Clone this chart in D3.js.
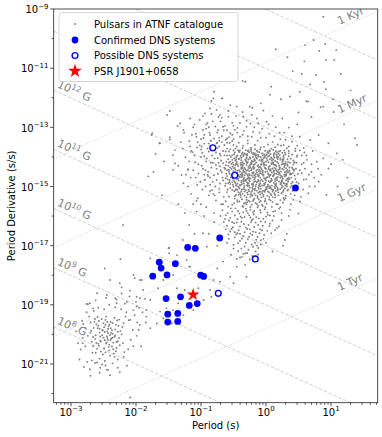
<!DOCTYPE html>
<html><head><meta charset="utf-8">
<script src="https://cdn.jsdelivr.net/npm/d3@7"></script>
<style>body{margin:0;background:#fff}svg{display:block}text{font-family:"DejaVu Sans",sans-serif}</style>
</head><body><svg id="c" width="382" height="437"></svg>
<script>
// ATNF pulsars: flat pairs of [log10(P)*100, log10(Pdot)*100]
const atnfMsp = [
-262,-2003,-251,-1987,-244,-2012,-238,-1995,-255,-2021,-247,-1968,-233,-2008,-241,-2035,-259,-1979,-228,-1991,
-266,-2040,-249,-2047,-236,-1962,-243,-1981,-252,-2003,-230,-2026,-257,-1955,-239,-2019,-248,-1992,-263,-2016,
-221,-1975,-235,-2050,-246,-1940,-254,-2058,-240,-2002,-226,-2012,-269,-1988,-244,-1958,-232,-1983,-258,-2032,
-250,-2011,-237,-2041,-229,-1953,-261,-1966,-245,-2027,-222,-2000,-256,-1994,-242,-1972,-234,-2065,-268,-2025,
-253,-1948,-239,-1979,-247,-2061,-225,-2037,-260,-2049,-231,-1967,-243,-2019,-264,-1957,-236,-1998,-249,-1976,
-219,-1962,-255,-2007,-241,-2054,-228,-2023,-266,-2009,-246,-2031,-233,-1944,-258,-1971,-240,-2072,-252,-1985,
-238,-2014,-224,-1989,-262,-2062,-247,-1951,-230,-2046,-257,-2038,-243,-1996,-235,-2028,-270,-1995,-250,-1962,
-227,-1971,-245,-2006,-259,-1941,-232,-2004,-242,-2043,-265,-1978,-237,-1985,-254,-2024,-220,-2030,-248,-2019,
-239,-1958,-261,-2029,-231,-2057,-256,-1981,-244,-1990,-226,-1950,-251,-2068,-236,-2011,-263,-1948,-241,-1967,
-282,-2012,-278,-1978,-285,-2051,-275,-2093,-272,-1940,-280,-2110,-268,-2088,-276,-1925,-289,-2030,-271,-2118,
-260,-2095,-252,-2102,-245,-2120,-236,-2098,-228,-2085,-219,-2076,-212,-2050,-208,-2018,-205,-1985,-211,-1952,
-215,-1925,-223,-1915,-232,-1908,-241,-1900,-249,-1915,-258,-1910,-265,-1920,-274,-1898,-262,-1885,-246,-1877,
-230,-1882,-217,-1896,-202,-1935,-198,-1960,-195,-1910,-200,-1890,-210,-1872,-222,-1862,-190,-1925,-186,-1880,
-199,-2005,-204,-2040,-214,-2106,-225,-2128,-240,-2138,-256,-2130,-270,-2140,-287,-2085,-283,-1955,-292,-1990,
-248,-2090,-233,-2076,-218,-2060,-256,-2082,-267,-2062,-278,-2040,-274,-2005,-281,-1965,-270,-1960,-216,-1940,
-263,-2097,-255,-2113,-243,-2120,-228,-2113,-282,-2030,-247,-2105,
-248,-1777,-240,-1816,-225,-1827,-222,-1841,-204,-1799,-202,-1810,-191,-1816,-209,-1852,-260,-1861,-245,-1867,
-271,-1895,-276,-1897,-266,-1912,-232,-1878,-230,-1895,-194,-1878,-199,-1906,-184,-1918,-214,-1890,-185,-1960,
-192,-2040,-196,-1985
];
const atnfRecycled = [
-97,-1658,-91,-1704,-128,-1681,-149,-1707,-149,-1726,-178,-1743,-194,-1816,-122,-1749,-117,-1771,-143,-1799,
-158,-1816,-166,-1844,-189,-1850,-199,-1873,-178,-1884,-137,-1844,-125,-1850,-104,-1844,-86,-1850,-84,-1873,
-81,-1816,-71,-1822,-55,-1805,-50,-1827,-45,-1771,-30,-1805,-32,-1726,-66,-1754,-75,-1777,-153,-1912,
-163,-1923,-143,-1918,-158,-1946,-145,-1963,-127,-1935,-168,-1963,-184,-1940,-204,-1918,-209,-1951,-194,-1968,
-178,-1979,-112,-1918,-96,-1884,-150,-1709,-137,-1732,-118,-1771,-224,-1746,-220,-1630,-209,-2213,-60,-1690,
-40,-1740,-110,-1660,-135,-1895,-118,-1880,-80,-1620,-88,-1660,-75,-1700,-95,-1600,-100,-1560,-107,-1585
];
const atnfNormal = [
-42,-1381,-31,-1377,-22,-1386,-14,-1379,-6,-1388,3,-1383,11,-1376,19,-1389,-37,-1390,-26,-1384,-9,-1375,7,-1391,-18,-1392,15,-1380,-48,-1385,25,-1386,-1,-1379,-33,-1388,
-45,-1398,-38,-1403,-29,-1395,-20,-1400,-12,-1393,-4,-1404,5,-1396,13,-1402,21,-1394,-34,-1393,-24,-1406,-16,-1397,-8,-1401,1,-1392,9,-1405,17,-1398,27,-1401,-52,-1394,-41,-1406,-2,-1398,
-47,-1412,-36,-1418,-27,-1409,-19,-1415,-10,-1411,-3,-1419,6,-1408,14,-1414,22,-1410,30,-1417,-42,-1407,-31,-1413,-23,-1420,-14,-1406,-6,-1416,2,-1411,10,-1419,18,-1407,26,-1413,-55,-1416,-39,-1420,-17,-1412,
-50,-1426,-43,-1431,-34,-1423,-25,-1429,-17,-1424,-9,-1433,0,-1427,8,-1422,16,-1432,24,-1426,33,-1430,-38,-1435,-29,-1421,-20,-1434,-12,-1428,-4,-1422,4,-1434,12,-1425,20,-1429,28,-1423,-46,-1422,-58,-1430,
-53,-1441,-44,-1447,-36,-1438,-28,-1444,-19,-1440,-11,-1448,-2,-1437,6,-1445,15,-1441,23,-1449,31,-1438,-40,-1450,-32,-1442,-24,-1436,-15,-1446,-7,-1441,2,-1449,10,-1439,19,-1444,27,-1443,36,-1447,-48,-1437,-60,-1445,
-56,-1457,-47,-1452,-39,-1460,-31,-1455,-22,-1463,-14,-1453,-6,-1459,3,-1456,11,-1464,20,-1452,28,-1460,37,-1455,-43,-1465,-35,-1451,-26,-1458,-18,-1462,-10,-1456,-1,-1451,7,-1461,16,-1457,24,-1465,33,-1452,-51,-1463,
-54,-1470,-45,-1476,-37,-1468,-29,-1474,-20,-1469,-12,-1478,-3,-1472,5,-1467,14,-1475,22,-1471,31,-1479,-41,-1466,-33,-1480,-24,-1473,-16,-1466,-7,-1477,1,-1470,9,-1479,18,-1468,26,-1474,35,-1470,-50,-1479,-62,-1472,
-52,-1486,-44,-1491,-35,-1483,-27,-1489,-18,-1484,-10,-1493,-1,-1487,7,-1482,16,-1490,24,-1485,32,-1494,-40,-1495,-31,-1481,-22,-1492,-14,-1486,-5,-1482,3,-1494,12,-1488,20,-1483,29,-1491,-48,-1484,-58,-1489,
-50,-1501,-41,-1507,-33,-1498,-25,-1504,-16,-1499,-8,-1508,1,-1502,9,-1497,18,-1505,26,-1500,-37,-1510,-29,-1496,-20,-1509,-12,-1503,-3,-1497,5,-1506,13,-1501,22,-1509,-46,-1496,-55,-1505,
-49,-1516,-40,-1522,-31,-1513,-23,-1519,-14,-1514,-6,-1523,3,-1517,11,-1512,19,-1520,-36,-1525,-27,-1511,-18,-1524,-10,-1518,-1,-1512,7,-1525,15,-1515,-44,-1511,24,-1522,
-60,-1352,-13,-1345,18,-1358,40,-1349,-35,-1362,-3,-1366,32,-1371,-55,-1374,-23,-1369,8,-1372,
-64,-1395,35,-1388,42,-1412,-66,-1421,40,-1436,-68,-1452,44,-1463,-66,-1480,41,-1485,-63,-1498,
38,-1502,-60,-1519,33,-1514,30,-1531,-57,-1534,-48,-1541,-39,-1536,-30,-1545,-21,-1531,-13,-1539,
-4,-1533,5,-1544,14,-1537,22,-1546,-44,-1552,-34,-1558,-25,-1551,-16,-1556,-8,-1549,1,-1558,
10,-1553,18,-1560,-52,-1562,-28,-1527,-19,-1545,-46,-1529,27,-1539,-9,-1527,8,-1529,-1,-1541,
-27,-1378,2,-1385,-15,-1394,12,-1391,-44,-1395,-30,-1402,-7,-1409,22,-1404,-21,-1416,4,-1418,
-39,-1427,-13,-1431,13,-1437,-26,-1438,0,-1441,28,-1434,-50,-1448,-19,-1452,9,-1453,33,-1444,
-33,-1462,-4,-1464,19,-1459,-49,-1468,-26,-1471,-1,-1476,24,-1480,-38,-1486,-9,-1489,14,-1493,
-42,-1502,-20,-1498,7,-1504,30,-1497,-33,-1517,-5,-1515,18,-1512,-24,-1527,-57,-1420,-49,-1405,
11,-1466,-16,-1482,37,-1420,-35,-1445,25,-1417,-8,-1448,15,-1428,-45,-1458,3,-1499,-28,-1491,
-17,-1374,6,-1380,-40,-1378,27,-1395,-11,-1399,-52,-1410,19,-1421,-36,-1432,-7,-1425,31,-1448,
-23,-1445,12,-1450,-43,-1462,16,-1470,-31,-1478,4,-1482,-56,-1485,27,-1488,-15,-1493,-46,-1509,
10,-1511,-21,-1505,34,-1483,-11,-1463,-37,-1455,21,-1441,-3,-1430,-28,-1417,8,-1402,-19,-1387,
-8,-1455,-30,-1427,17,-1384,-51,-1433,29,-1466,-39,-1496,-2,-1518,14,-1506,-25,-1462,0,-1395,
30,-1392,38,-1406,33,-1425,41,-1455,36,-1475,40,-1497,29,-1507,35,-1380,44,-1418,31,-1462,46,-1440,38,-1525,26,-1555,45,-1380,
-41,-1384,-35,-1397,-28,-1380,-20,-1391,-13,-1383,-5,-1395,4,-1387,12,-1397,20,-1382,-46,-1402,
-38,-1411,-30,-1405,-22,-1413,-15,-1403,-7,-1414,1,-1405,9,-1412,17,-1403,25,-1409,-51,-1419,
-44,-1425,-36,-1428,-27,-1433,-19,-1427,-11,-1436,-3,-1426,6,-1431,13,-1427,21,-1435,29,-1428,
-55,-1436,-47,-1443,-38,-1440,-30,-1447,-22,-1441,-13,-1443,-5,-1447,4,-1441,12,-1446,21,-1437,
29,-1452,-57,-1450,-45,-1456,-37,-1463,-29,-1459,-20,-1456,-12,-1466,-4,-1460,5,-1463,13,-1456,
22,-1463,31,-1458,-53,-1467,-43,-1473,-35,-1477,-27,-1469,-18,-1476,-9,-1470,0,-1480,8,-1474,
17,-1478,25,-1469,33,-1474,-56,-1478,-47,-1488,-38,-1481,-29,-1486,-20,-1490,-12,-1482,-3,-1491,
6,-1486,14,-1482,22,-1492,-51,-1494,-43,-1500,-34,-1504,-26,-1497,-17,-1507,-9,-1500,0,-1505,
8,-1508,16,-1499,24,-1504,-47,-1513,-38,-1517,-29,-1521,-21,-1515,-12,-1521,-3,-1514,5,-1520,
13,-1523,-42,-1528,-33,-1531,-24,-1535,-16,-1530,-7,-1537,2,-1531,10,-1536,-37,-1543,-27,-1548,
-18,-1541,-10,-1553,-1,-1547,-32,-1555,-22,-1562,-14,-1559,-5,-1566,-44,-1546,19,-1530,26,-1518,
-24,-1425,-8,-1437,-33,-1451,11,-1420,-16,-1458,2,-1469,-40,-1469,18,-1451,-25,-1483,-6,-1497,
-31,-1392,-2,-1402,16,-1392,-47,-1428,30,-1423,-19,-1433,7,-1447,-34,-1490,24,-1496,-11,-1508,
-52,-1458,-60,-1465,-62,-1490,-59,-1510,-63,-1440,-58,-1408,-56,-1395,-50,-1378,28,-1378,-23,-1374,
-8,-1368,-36,-1370,14,-1367,-45,-1365,-17,-1360,3,-1358,23,-1362,-28,-1355,-52,-1347,10,-1350,
-57,-1382,-49,-1391,-43,-1377,-36,-1385,-29,-1390,-23,-1380,-16,-1389,-10,-1384,-3,-1391,5,-1378,
13,-1387,22,-1379,29,-1386,-54,-1400,-46,-1409,-39,-1397,-32,-1410,-25,-1401,-18,-1408,-12,-1398,
-5,-1410,3,-1399,11,-1409,19,-1400,27,-1407,35,-1398,-61,-1416,-53,-1424,-45,-1417,-37,-1425,
-30,-1418,-22,-1424,-15,-1419,-8,-1426,0,-1416,9,-1424,17,-1417,26,-1424,34,-1417,42,-1426,
-64,-1437,-57,-1444,-49,-1439,-41,-1445,-33,-1437,-26,-1448,-18,-1437,-10,-1444,-1,-1438,7,-1442,
16,-1447,25,-1440,34,-1452,43,-1443,-61,-1457,-53,-1462,-44,-1454,-36,-1459,-28,-1463,-21,-1454,
-13,-1460,-5,-1453,4,-1459,12,-1461,21,-1456,30,-1462,39,-1458,-59,-1476,-51,-1473,-42,-1480,
-34,-1472,-26,-1479,-17,-1471,-9,-1481,-1,-1473,8,-1481,16,-1473,25,-1482,34,-1477,-55,-1492,
-46,-1497,-37,-1492,-28,-1499,-20,-1494,-11,-1497,-2,-1493,6,-1499,15,-1495,23,-1488,32,-1490,
-52,-1511,-43,-1519,-34,-1509,-26,-1516,-17,-1513,-8,-1518,1,-1509,10,-1517,18,-1510,27,-1513,
-48,-1533,-39,-1529,-30,-1537,-22,-1527,-13,-1533,-4,-1528,5,-1536,14,-1529,-41,-1551,-29,-1553,
-20,-1549,-11,-1544,-2,-1551,7,-1547,-35,-1569,-24,-1570,-12,-1565,-1,-1570,-49,-1557,-18,-1583,
-58,-1568,-47,-1574,-36,-1566,-24,-1579,-13,-1571,-2,-1577,9,-1569,-52,-1585,-41,-1591,-30,-1583,
-19,-1594,-8,-1588,3,-1596,14,-1583,-62,-1597,-55,-1606,-44,-1611,-33,-1603,-22,-1614,-11,-1608,
0,-1602,10,-1615,-49,-1624,-38,-1619,-27,-1630,-16,-1622,-5,-1633,6,-1626,-60,-1633,-53,-1643,
-42,-1648,-31,-1639,-20,-1652,-9,-1645,2,-1650,-46,-1662,-35,-1668,-24,-1659,-13,-1671,-3,-1664,
-57,-1677,-40,-1684,-28,-1679,-17,-1690,-8,-1682,-50,-1697,-33,-1703,-22,-1696,-12,-1708,-43,-1718,
-29,-1725,-16,-1720,-37,-1738,-25,-1747,-54,-1731,8,-1658,17,-1640,12,-1600,-65,-1620,-67,-1580,
-30,-1560,-6,-1562,20,-1575,-39,-1602,-25,-1645,-48,-1655,-14,-1700,0,-1690,-20,-1611,-35,-1587,
-54,-1574,-43,-1583,-31,-1575,-20,-1587,-9,-1580,2,-1588,-48,-1598,-37,-1606,-26,-1597,-15,-1604,
-4,-1609,6,-1598,-57,-1615,-45,-1622,-34,-1627,-23,-1621,-12,-1630,-1,-1620,-51,-1638,-40,-1635,
-29,-1644,-18,-1637,-6,-1648,-55,-1652,-44,-1658,-33,-1655,-21,-1664,-10,-1658,-48,-1672,-37,-1676,
-26,-1670,-15,-1680,-4,-1677,-43,-1692,-31,-1690,-20,-1704,-8,-1696,-38,-1710,-27,-1714,-35,-1728,
-59,-1590,-62,-1645,-58,-1662,5,-1634,11,-1585,-50,-1710,-21,-1735,-45,-1745,-32,-1765,-12,-1730,
16,-1560,24,-1590,-66,-1560,-63,-1610,-24,-1605,-40,-1660,-16,-1655,-28,-1590,-52,-1620,-8,-1618,
-68,-1330,-75,-1352,-82,-1371,-71,-1389,-79,-1405,-88,-1382,-95,-1398,-73,-1420,-84,-1436,-92,-1415,
-70,-1445,-80,-1462,-89,-1450,-99,-1430,-76,-1478,-86,-1494,-72,-1508,-81,-1525,-94,-1478,-104,-1456,
-109,-1418,-113,-1384,-102,-1361,-96,-1336,-87,-1318,-78,-1297,-70,-1280,-92,-1290,-108,-1322,-118,-1347,
-124,-1401,-120,-1442,-128,-1372,-116,-1470,-98,-1510,-88,-1530,-77,-1547,-69,-1560,-106,-1495,-131,-1350,
-72,-1365,-85,-1346,-65,-1310,-74,-1404,-90,-1460,-83,-1512,-100,-1375,-110,-1290,-97,-1262,-84,-1255,
-126,-1318,-135,-1430,-115,-1525,-73,-1265,-63,-1295,-105,-1540,-92,-1570,-80,-1590,-70,-1600,
-95,-1325,-88,-1355,-80,-1338,-72,-1345,-64,-1360,-57,-1333,-50,-1340,-44,-1318,-36,-1325,-28,-1330,
-78,-1375,-70,-1395,-62,-1382,-56,-1353,-47,-1372,-90,-1372,-83,-1395,-77,-1427,-69,-1412,-62,-1428,
-67,-1470,-74,-1458,-71,-1490,-78,-1500,-86,-1470,-93,-1445,-100,-1400,-105,-1350,-114,-1325,-92,-1305,
-82,-1280,-74,-1310,-60,-1310,-50,-1295,-40,-1285,-30,-1278,-18,-1300,-10,-1318,0,-1335,-22,-1332,
-68,-1268,-58,-1245,-46,-1262,-36,-1248,-88,-1300,-100,-1340,-110,-1395,-82,-1420,-95,-1460,-76,-1440,
-98,-1386,-91,-1405,-85,-1420,-97,-1440,-89,-1465,-82,-1484,-75,-1370,-66,-1380,-60,-1395,-71,-1432,
-104,-1425,-112,-1445,-108,-1470,-101,-1485,-93,-1500,-86,-1515,-79,-1530,-72,-1520,-65,-1535,-62,-1550,
-118,-1415,-123,-1460,-115,-1380,-106,-1368,-95,-1355,-86,-1365,-77,-1385,-68,-1350,-60,-1338,-52,-1325,
-44,-1302,-34,-1312,-24,-1287,-14,-1270,-6,-1305,4,-1290,13,-1330,21,-1318,30,-1342,-72,-1335,
-164,-1354,-143,-1394,-130,-1461,-173,-1450,-140,-1377,-127,-1489,-148,-1333,-157,-1415,-170,-1390,-181,-1466,
-136,-1296,-152,-1258,-107,-1548,-160,-1530,-148,-1245,-175,-1320,-176,-1326,-163,-1354,-148,-1341,-140,-1422,
-120,-1444,-143,-1444,-120,-1500,-112,-1560,-125,-1590,-118,-1630,-135,-1560,
-132,-1286,-127,-1309,-117,-1270,-102,-1275,-94,-1253,-86,-1236,-76,-1241,-71,-1258,-58,-1264,-81,-1202,
-68,-1202,-55,-1225,-45,-1230,-35,-1264,-22,-1258,-12,-1286,1,-1281,-30,-1298,-66,-1298,-97,-1309,
-107,-1332,-86,-1326,-55,-1320,-40,-1332,-76,-1354,-99,-1365,-117,-1365,-62,-1342,-48,-1308,-20,-1315,
5,-1322,15,-1300,28,-1318,40,-1330,-8,-1335,-28,-1345,-52,-1285,-42,-1352,22,-1340,35,-1301,
10,-1262,-4,-1243,25,-1270,48,-1290,-90,-1285,-112,-1300,-60,-1372,-50,-1360,-75,-1318,-85,-1345,
15,-1036,33,-1063,60,-1022,73,-1005,91,-1018,82,-1042,108,-1039,92,-1072,105,-1072,59,-1077,
41,-1110,77,-1123,89,-1147,68,-1155,92,-1171,8,-1163,52,-1180,23,-1205,62,-1212,84,-1232,
-8,-1219,-21,-1234,6,-1190,-36,-1143,-67,-1202,-80,-1180,-84,-1211,103,-1205,104,-1248,88,-926,
-32,-1146,37,-1196,65,-1213,88,-1230,-25,-1230,137,-1337,120,-1290,130,-1175,70,-1265,50,-1250,115,-1120,55,-1120,
45,-1372,52,-1332,68,-1343,81,-1326,96,-1354,109,-1388,140,-1360,78,-1416,70,-1450,96,-1439,
81,-1484,65,-1523,93,-1529,52,-1551,37,-1579,50,-1591,24,-1613,14,-1647,29,-1681,47,-1400,
55,-1425,49,-1458,58,-1477,45,-1502,62,-1395,72,-1380,88,-1405,60,-1440,75,-1500,54,-1535,
44,-1530,42,-1545,48,-1362,58,-1370,66,-1460,85,-1460,100,-1425,118,-1410,125,-1470,110,-1500,
38,-1560,41,-1440,43,-1420,39,-1470,50,-1490,57,-1510,35,-1600,20,-1635,26,-1700,10,-1720,32,-1660,
33,-1408,40,-1392,47,-1420,43,-1447,37,-1460,45,-1475,39,-1490,34,-1510,30,-1540,41,-1515,
48,-1395,52,-1445,55,-1395,58,-1420,62,-1475,47,-1485,36,-1436,32,-1500,28,-1545,22,-1570,
55,-1455,63,-1410,70,-1425,67,-1500,74,-1470,80,-1440,59,-1385,52,-1378,35,-1365,27,-1360
];
// DNS systems: [P (s), Pdot (s/s)]
const dnsConfirmed = [
[0.194,1.82e-17],[0.0624,8.7e-18],[0.0817,8.1e-18],[0.0228,2.75e-18],[0.0243,1.74e-18],[0.0403,2.45e-18],
[0.0181,9.3e-19],[0.030,1.02e-18],[0.0989,1.0e-18],[0.110,9.1e-19],[0.029,1.62e-19],[0.0484,1.86e-19],
[0.066,9.5e-20],[0.0875,1.1e-19],[0.0308,4.8e-20],[0.0439,5.1e-20],[0.0308,2.6e-20],[0.0439,2.75e-20],
[2.84,8.9e-16]
];
const dnsPossible = [[0.152,2.04e-14],[0.331,2.4e-15],[0.684,3.55e-18],[0.1845,2.45e-19]];
const psrJ1901 = [[0.0757,2.2e-19]];
// Reference lines
const bFields = [1e8,1e9,1e10,1e11,1e12,1e13,1e14,1e15];
const bLabels = ["8","9","10","11","12"];
const ages = [1e3,1e6,1e9,1e12];
const ageLabels = ["1 Kyr","1 Myr","1 Gyr","1 Tyr"];
const xTickExps = [-3,-2,-1,0,1];
const yTickExps = [-9,-11,-13,-15,-17,-19,-21];
const legendItems = ["Pulsars in ATNF catalogue","Confirmed DNS systems","Possible DNS systems","PSR J1901+0658"];

const svg = d3.select("#c");
const L=53.7,R=377.7,T=9,B=402.7;
const x = d3.scaleLog().domain([Math.pow(10,-3.266),Math.pow(10,1.718)]).range([L,R]);
const y = d3.scaleLog().domain([Math.pow(10,-22.31),1e-9]).range([B,T]);
const [P0,P1]=x.domain();

svg.append("defs").append("clipPath").attr("id","clip").append("rect")
  .attr("x",L).attr("y",T).attr("width",R-L).attr("height",B-T);
const g = svg.append("g").attr("clip-path","url(#clip)");
const line = d3.line().x(d=>x(d[0])).y(d=>y(d[1]));
const YR=3.156e7;
function bPd(Bf,P){const k=Bf/3.2e19;return k*k/P;}
function aPd(t,P){return P/(2*t*YR);}
bFields.forEach(Bf=>{
  g.append("path").attr("d",line([[P0,bPd(Bf,P0)],[P1,bPd(Bf,P1)]]))
   .attr("fill","none").attr("stroke","#d0d0d0").attr("stroke-width",1).attr("stroke-dasharray","3.7,1.6");
});
ages.forEach(t=>{
  g.append("path").attr("d",line([[P0,aPd(t,P0)],[P1,aPd(t,P1)]]))
   .attr("fill","none").attr("stroke","#d0d0d0").attr("stroke-width",1).attr("stroke-dasharray","1,1.6");
});
const ang = Math.atan2(y(1e-10)-y(1e-9), x(10)-x(1))*180/Math.PI; // slope angle (down-right positive)
bLabels.forEach((e,i)=>{
  const Bf=bFields[i], px=56.5, P=x.invert(px), yy=y(bPd(Bf,P))-4.5;
  const t=g.append("text").attr("x",px).attr("y",yy).attr("fill","#808080").attr("font-size",11)
    .attr("transform",`rotate(${ang},${px},${yy})`);
  t.append("tspan").text("10");
  t.append("tspan").attr("dy",-4.5).attr("font-size",7.7).text(e);
  t.append("tspan").attr("dy",4.5).text(" G");
});
ages.forEach((t,i)=>{
  const px=339.5, P=x.invert(px), yy=y(aPd(t,P))-4;
  g.append("text").attr("x",px).attr("y",yy).attr("fill","#808080").attr("font-size",11)
    .attr("transform",`rotate(${-ang},${px},${yy})`).text(ageLabels[i]);
});
// pulsars
const pts=[];
[atnfMsp,atnfRecycled,atnfNormal].forEach(a=>{for(let i=0;i<a.length;i+=2)pts.push([Math.pow(10,a[i]/100),Math.pow(10,a[i+1]/100)]);});
g.append("g").selectAll("circle").data(pts).join("circle")
  .attr("cx",d=>x(d[0])).attr("cy",d=>y(d[1])).attr("r",0.95).attr("fill","#808080");
g.append("g").selectAll("circle").data(dnsConfirmed).join("circle")
  .attr("cx",d=>x(d[0])).attr("cy",d=>y(d[1])).attr("r",3.4).attr("fill","#0000ff");
g.append("g").selectAll("circle").data(dnsPossible).join("circle")
  .attr("cx",d=>x(d[0])).attr("cy",d=>y(d[1])).attr("r",2.9).attr("fill","#fff").attr("stroke","#0000ff").attr("stroke-width",1.4);
const star=d3.symbol().type(d3.symbolStar).size(50);
g.append("g").selectAll("path").data(psrJ1901).join("path")
  .attr("transform",d=>`translate(${x(d[0])},${y(d[1])})`).attr("d",star).attr("fill","#ff0000");

// axes frame
svg.append("rect").attr("x",L).attr("y",T).attr("width",R-L).attr("height",B-T)
  .attr("fill","none").attr("stroke","#222").attr("stroke-width",0.8);
const ax=svg.append("g").attr("stroke","#222").attr("stroke-width",0.8);
for(let e=-4;e<=2;e++){for(let m=1;m<10;m++){const v=m*Math.pow(10,e);if(v<P0||v>P1)continue;
  const px=x(v);ax.append("line").attr("x1",px).attr("x2",px).attr("y1",B).attr("y2",B+(m===1?3.5:2));}}
xTickExps.forEach(e=>{
  const t=svg.append("text").attr("x",x(Math.pow(10,e))).attr("y",415.5).attr("font-size",10).attr("text-anchor","middle");
  t.append("tspan").text("10");
  t.append("tspan").attr("dy",-4.5).attr("font-size",7).text(String(e).replace("-","\u2212"));
});
for(let e=-22;e<=-9;e++){const py=y(Math.pow(10,e));const major=(e%2!==0);
  ax.append("line").attr("x1",L).attr("x2",L-(major?3.5:2)).attr("y1",py).attr("y2",py);}
yTickExps.forEach(e=>{
  const py=y(Math.pow(10,e));
  const t=svg.append("text").attr("x",48.5).attr("y",py+4.2).attr("font-size",10).attr("text-anchor","end");
  t.append("tspan").text("10");
  t.append("tspan").attr("dy",-4.5).attr("font-size",7).text(String(e).replace("-","\u2212"));
});
svg.append("text").attr("x",(L+R)/2).attr("y",429).attr("font-size",10).attr("text-anchor","middle").text("Period (s)");
svg.append("text").attr("transform",`translate(15,${(T+B)/2}) rotate(-90)`).attr("font-size",10).attr("text-anchor","middle").text("Period Derivative (s/s)");

// legend
const lg=svg.append("g");
lg.append("rect").attr("x",59).attr("y",12.5).attr("width",179).attr("height",69).attr("rx",2.5)
  .attr("fill","#fff").attr("fill-opacity",0.8).attr("stroke","#cccccc").attr("stroke-width",0.8);
const rows=[24,40,55.5,71];
lg.append("circle").attr("cx",75).attr("cy",rows[0]).attr("r",0.95).attr("fill","#808080");
lg.append("circle").attr("cx",75).attr("cy",rows[1]).attr("r",3.4).attr("fill","#0000ff");
lg.append("circle").attr("cx",75).attr("cy",rows[2]).attr("r",2.9).attr("fill","#fff").attr("stroke","#0000ff").attr("stroke-width",1.4);
lg.append("path").attr("transform",`translate(75,${rows[3]})`).attr("d",d3.symbol().type(d3.symbolStar).size(60)).attr("fill","#ff0000");
legendItems.forEach((s,i)=>lg.append("text").attr("x",94).attr("y",rows[i]+3.6).attr("font-size",10).text(s));
</script></body></html>
